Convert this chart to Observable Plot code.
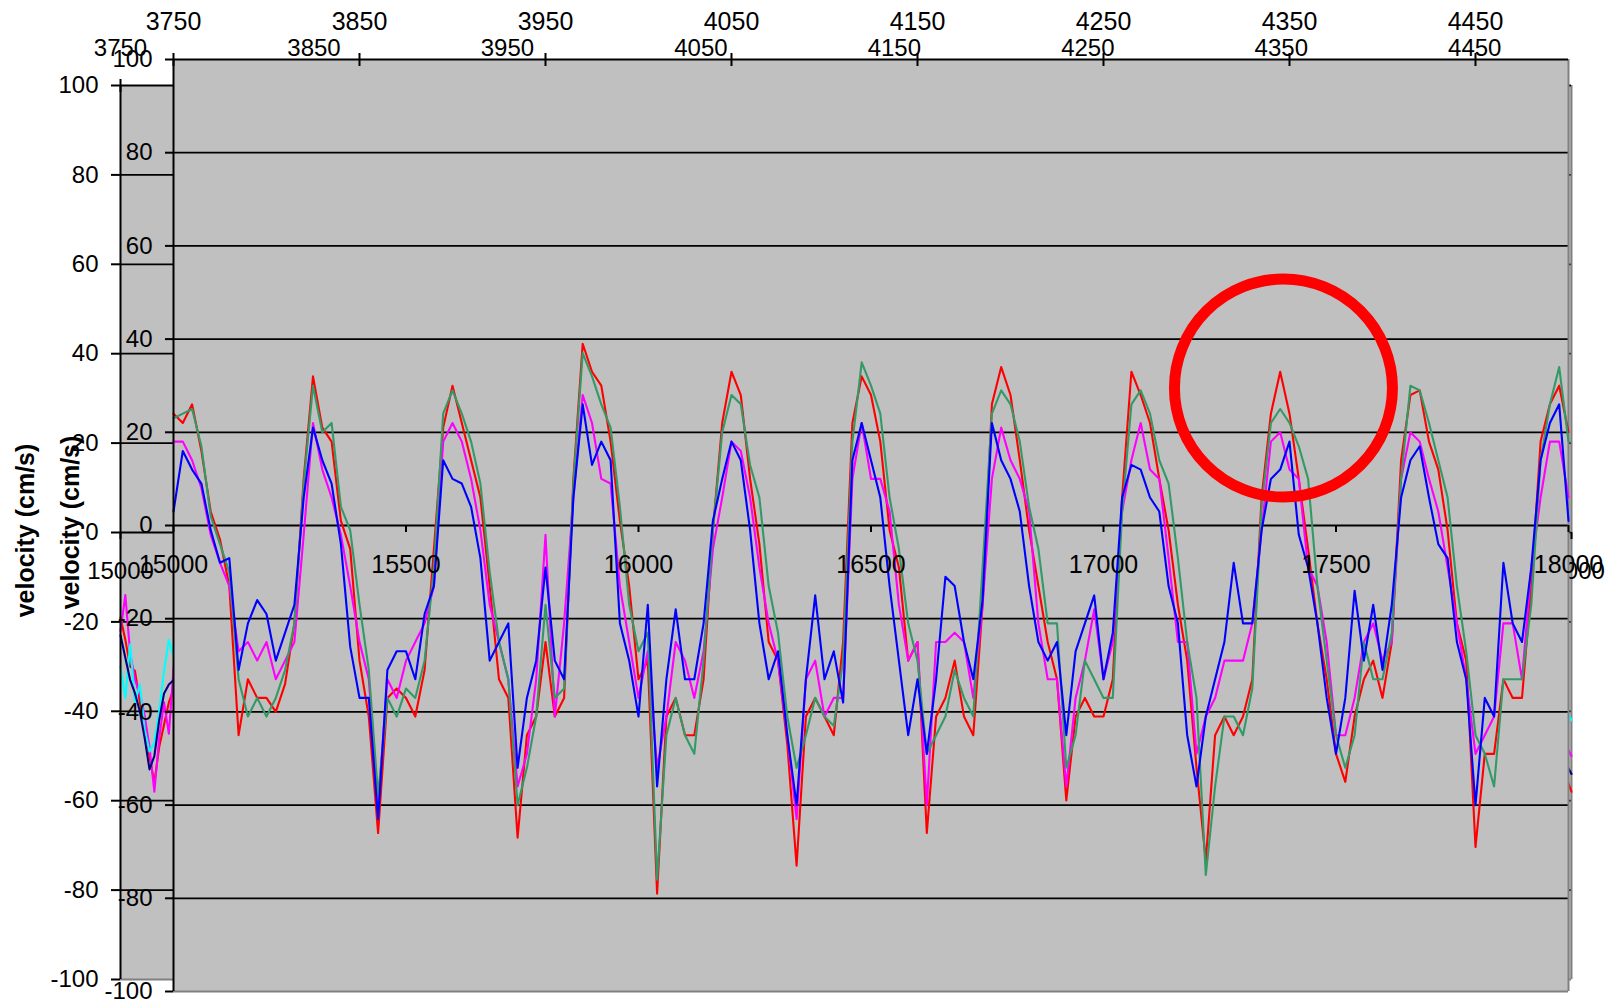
<!DOCTYPE html>
<html><head><meta charset="utf-8">
<script src="https://cdn.jsdelivr.net/npm/d3@7"></script>
<script src="https://cdn.jsdelivr.net/npm/@observablehq/plot@0.6"></script>
<style>
html,body{margin:0;padding:0;background:#fff;}
#wrap{position:relative;width:1609px;height:1003px;overflow:hidden;font-family:"Liberation Sans",Arial,sans-serif;}
#wrap svg{position:absolute;left:0;top:0;}
</style></head><body><div id="wrap"></div>
<script>
// ---------- data ----------
const T0 = 15000, DT = 20; // sample spacing of the front series (x = 15000, 15020, ... 18000)
const frontRed = [
24,22,26,16,3,-3,-13,-45,-33,-37,-37,-40,-34,-21,10,32,21,18,1,-5,-29,-41,-66,-37,-35,
-37,-41,-31,-5,21,30,22,14,6,-13,-33,-37,-67,-45,-41,-25,-41,-37,10,39,33,30,18,1,-13,
-33,-29,-79,-41,-37,-45,-45,-33,-1,22,33,28,10,-4,-25,-29,-47,-73,-41,-37,-41,-45,-25,22,32,
28,18,-1,-9,-29,-25,-66,-41,-37,-29,-41,-45,-17,26,34,28,14,-1,-13,-25,-33,-59,-41,-37,-41,
-41,-33,6,33,28,22,10,-1,-17,-29,-52,-72,-45,-41,-45,-41,-33,6,24,33,24,10,-5,-21,-33,
-49,-55,-41,-33,-29,-37,-25,14,28,29,18,12,-1,-21,-29,-69,-49,-49,-33,-37,-37,-13,18,26,30,20];
const frontGreen = [
23,24,25,17,2,-4,-10,-33,-41,-37,-41,-37,-31,-21,9,30,20,22,4,-1,-17,-31,-58,-37,-41,
-35,-37,-29,-9,24,29,24,18,9,-10,-25,-33,-60,-52,-41,-17,-37,-35,9,37,32,26,21,4,-17,
-27,-23,-76,-45,-37,-45,-49,-29,-1,20,28,26,13,6,-13,-23,-41,-52,-45,-37,-41,-43,-29,18,35,
30,24,6,-5,-21,-29,-49,-45,-41,-31,-37,-41,-9,24,29,26,18,4,-5,-21,-21,-52,-45,-29,-33,
-37,-37,3,26,29,24,14,9,-7,-25,-37,-75,-56,-41,-41,-45,-35,4,22,25,22,17,10,-13,-29,
-45,-52,-45,-25,-33,-33,-23,10,30,29,22,14,6,-13,-27,-45,-49,-56,-33,-33,-33,-17,14,26,34,18];
const frontMagenta = [
18,18,14,8,-2,-8,-13,-27,-25,-29,-25,-33,-29,-25,-2,22,12,6,-2,-13,-25,-33,-60,-33,-37,
-29,-25,-21,-13,18,22,18,10,-1,-17,-25,-33,-56,-49,-33,-2,-41,-21,6,28,22,10,9,-13,-25,
-37,-27,-52,-41,-25,-29,-37,-27,-5,6,18,16,6,-9,-21,-29,-45,-63,-33,-29,-41,-37,-37,10,22,
10,10,3,-17,-29,-25,-60,-25,-25,-23,-25,-37,-17,10,21,14,10,3,-21,-33,-33,-56,-37,-29,-18,
-33,-25,3,14,22,12,10,-7,-25,-25,-49,-41,-37,-29,-29,-29,-21,-1,18,20,12,10,-9,-13,-25,
-45,-45,-37,-25,-21,-29,-25,10,20,18,10,3,-9,-21,-33,-49,-45,-41,-21,-21,-33,-9,6,18,18,6];
const frontBlue = [
3,16,12,9,-1,-8,-7,-31,-21,-16,-19,-29,-23,-17,6,21,14,9,-4,-26,-37,-37,-63,-31,-27,
-27,-33,-19,-13,14,10,9,4,-7,-29,-25,-21,-52,-37,-29,-9,-29,-33,6,26,13,18,14,-21,-29,
-41,-17,-56,-33,-18,-33,-33,-21,1,10,18,14,-1,-21,-33,-27,-45,-60,-33,-15,-33,-27,-38,14,22,
14,6,-13,-29,-45,-33,-49,-33,-11,-13,-25,-33,-16,22,14,10,3,-13,-25,-29,-25,-45,-27,-21,-15,
-33,-23,6,13,12,6,3,-13,-21,-45,-56,-41,-33,-25,-8,-21,-21,-1,10,12,18,-2,-9,-21,-37,
-49,-37,-14,-29,-17,-31,-17,6,14,17,6,-4,-7,-25,-33,-60,-37,-41,-8,-21,-25,-9,14,22,26,1];

// back (partly hidden) chart: the visible start and end of its series
const backTime = [15000,15010,15020,15030,15040,15050,15060,15070,15080,15090,15100,15110];
const backRed     = [-19,-24,-30,-31,-38,-43,-50,-56,-48,-43,-38,-35];
const backMagenta = [-22,-14,-27,-33,-36,-41,-48,-58,-46,-38,-45,-30];
const backCyan    = [-30,-37,-25,-38,-34,-44,-49,-47,-40,-31,-24,-28];
const backNavy    = [-23,-28,-33,-36,-40,-46,-53,-50,-42,-36,-34,-33];
const backEndTime = [17960,17980,18000];
const backEndRed     = [-45,-52,-58];
const backEndMagenta = [-40,-46,-50];
const backEndCyan    = [-34,-38,-42];
const backEndNavy    = [-44,-50,-54];

const bottomTicks = [15000,15500,16000,16500,17000,17500,18000];
const backVisibleBottomLabels = [15000,18000]; // the others sit under the front chart
const topTickLabels = [3750,3850,3950,4050,4150,4250,4350,4450];
const topRange = [3750,4500];
const xRange = [15000,18000];
const yTicks = [-100,-80,-60,-40,-20,0,20,40,60,80,100];
const gridValues = [-80,-60,-40,-20,0,20,40,60,80];
const yTitle = "velocity (cm/s)";
const highlight = [{t:17387, v:29.5}];

// ---------- helpers ----------
const topToX = u => xRange[0] + (u - topRange[0]) * (xRange[1]-xRange[0]) / (topRange[1]-topRange[0]);
const xToTop = t => topRange[0] + (t - xRange[0]) * (topRange[1]-topRange[0]) / (xRange[1]-xRange[0]);
const topTicksX = topTickLabels.map(topToX);
const rows = (times, vals) => vals.map((v,i) => ({t: times[i], v}));
const frontTimes = frontRed.map((_, i) => T0 + i*DT);

function chart(cfg) {
  const lineMarks = cfg.series.map(s => Plot.line(rows(s.times, s.values), {x:"t", y:"v", stroke:s.color, strokeWidth:2.1}));
  const marks = [
    Plot.frame({fill:"#c0c0c0", stroke:null}),
    Plot.ruleY(gridValues, {stroke:"#000", strokeWidth:1.8}),
    Plot.ruleY([-100], {stroke:"#808080", strokeWidth:2}),
    Plot.ruleX([18000], {stroke:"#808080", strokeWidth:2}),
    ...lineMarks,
    Plot.ruleY([100], {stroke:"#000", strokeWidth:2}),
    Plot.ruleX([15000], {stroke:"#000", strokeWidth:2}),
    Plot.ruleX(bottomTicks, {y1:0, y2:0, insetBottom:-7, stroke:"#000", strokeWidth:2}),
    Plot.text(cfg.bottomLabels, {x:d=>d, y:0, dy:39, text:d=>String(d), fontSize:cfg.bottomFont, fill:"#000"}),
    Plot.axisX(topTicksX, {anchor:"top", tickSize:7, tickPadding:23, strokeWidth:2, stroke:"#000",
      tickFormat:d=>String(Math.round(xToTop(d))), fontSize:cfg.topFont, label:null}),
    Plot.ruleX(topTicksX, {y1:100, y2:100, insetBottom:-7, stroke:"#000", strokeWidth:2}),
    Plot.axisY(yTicks, {anchor:"left", tickSize:cfg.ySize, tickPadding:13, strokeWidth:2, stroke:"#000",
      tickFormat:d=>String(d), fontSize:24, label:null}),
    Plot.text([yTitle], {frameAnchor:"left", dx:cfg.titleDx, dy:cfg.titleDy, rotate:-90, textAnchor:"middle", lineAnchor:"middle",
      fontWeight:"bold", fontSize:25, fill:"#000"}),
    ...(cfg.extra || [])
  ];
  return Plot.plot({
    width:1609, height:1003,
    marginLeft:cfg.mL, marginRight:cfg.mR, marginTop:cfg.mT, marginBottom:cfg.mB,
    x:{domain:xRange, axis:null, label:null},
    y:{domain:[-100,100], axis:null, label:null},
    style:{background:"transparent", fontFamily:"'Liberation Sans', Arial, sans-serif", color:"#000", overflow:"visible"},
    marks
  });
}

const back = chart({
  mL:120, mR:38, mT:85, mB:24, topFont:24, bottomFont:24, ySize:9, titleDx:-95, titleDy:-2,
  bottomLabels: backVisibleBottomLabels,
  series:[
    {times:backTime, values:backRed, color:"#ff0000"},
    {times:backTime, values:backMagenta, color:"#ff00ff"},
    {times:backTime, values:backCyan, color:"#00ffff"},
    {times:backTime, values:backNavy, color:"#000080"},
    {times:backEndTime, values:backEndRed, color:"#ff0000"},
    {times:backEndTime, values:backEndMagenta, color:"#ff00ff"},
    {times:backEndTime, values:backEndCyan, color:"#00ffff"},
    {times:backEndTime, values:backEndNavy, color:"#000080"}
  ]
});
const front = chart({
  mL:173, mR:41, mT:59, mB:12, topFont:25, bottomFont:25, ySize:8, titleDx:-103, titleDy:-3,
  bottomLabels: bottomTicks,
  series:[
    {times:frontTimes, values:frontRed, color:"#ff0000"},
    {times:frontTimes, values:frontMagenta, color:"#ff00ff"},
    {times:frontTimes, values:frontGreen, color:"#339966"},
    {times:frontTimes, values:frontBlue, color:"#0000ff"}
  ],
  extra:[Plot.dot(highlight, {x:"t", y:"v", r:109, stroke:"#ff0000", strokeWidth:11, fill:"none"})]
});
const wrap = document.getElementById("wrap");
wrap.appendChild(back);
wrap.appendChild(front);
</script>
</body></html>
